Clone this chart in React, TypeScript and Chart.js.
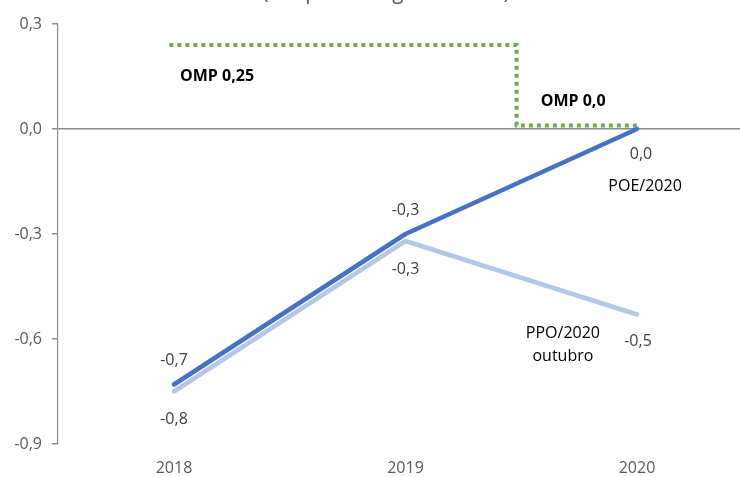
import React, { useEffect, useRef } from 'react';
import { Chart, registerables } from 'chart.js';

Chart.register(...registerables);

// ---- data ----
const years = [2018, 2019, 2020];
const poe2020 = [-0.73, -0.3, 0.0];
const ppo2020Outubro = [-0.75, -0.32, -0.53];
const ompX = [2017.98, 2019.48, 2019.48, 2020.0];
const ompY = [0.24, 0.24, 0.01, 0.01];
const yTickValues = [-0.9, -0.6, -0.3, 0, 0.3];
const titleText = '(em percentagem do PIB)';

// text notes anchored in data coordinates
const noteTexts = ['POE/2020', 'PPO/2020', 'outubro', 'OMP 0,25', 'OMP 0,0'];
const noteX = [2020.035, 2019.68, 2019.68, 2018.186, 2019.724];
const noteY = [-0.163, -0.583, -0.651, 0.151, 0.08];
const noteBold = [false, false, false, true, true];

const FONT = '"Open Sans", "Noto Sans", sans-serif';
const fmt = (v: number) => v.toFixed(1).replace('.', ',');

// label offsets in pixels relative to each point
const poeLabelDy = [-24, -24, 25];
const poeLabelDx = [0, 0, 4];
const ppoLabelDy = [28, 28, 27];
const ppoLabelDx = [0, 0, 1];

const labelPlugin = {
  id: 'customLabels',
  afterDatasetsDraw(chart: any) {
    const ctx = chart.ctx;
    const xs = chart.scales.x;
    const ys = chart.scales.y;
    ctx.save();
    // clipped title at top
    ctx.font = `21px ${FONT}`;
    ctx.fillStyle = '#595959';
    ctx.textAlign = 'center';
    ctx.textBaseline = 'alphabetic';
    ctx.fillText(titleText, 386, -1.5);

    ctx.textBaseline = 'middle';
    ctx.font = `16px ${FONT}`;
    ctx.fillStyle = '#404040';
    years.forEach((yr, i) => {
      const px = xs.getPixelForValue(yr);
      ctx.fillText(fmt(poe2020[i]), px + poeLabelDx[i], ys.getPixelForValue(poe2020[i]) + poeLabelDy[i]);
      ctx.fillText(fmt(ppo2020Outubro[i]), px + ppoLabelDx[i], ys.getPixelForValue(ppo2020Outubro[i]) + ppoLabelDy[i]);
    });

    noteTexts.forEach((t, i) => {
      ctx.font = `${noteBold[i] ? 'bold ' : ''}16px ${FONT}`;
      ctx.fillStyle = '#000000';
      ctx.fillText(t, xs.getPixelForValue(noteX[i]), ys.getPixelForValue(noteY[i]));
    });
    ctx.restore();
  },
};

export default function App() {
  const canvasRef = useRef<HTMLCanvasElement | null>(null);

  useEffect(() => {
    document.body.style.margin = '0';
    const canvas = canvasRef.current;
    if (!canvas) return;
    const chart = new Chart(canvas, {
      type: 'line',
      data: {
        datasets: [
          {
            label: 'POE/2020',
            data: years.map((x, i) => ({ x, y: poe2020[i] })),
            borderColor: '#4472C4',
            borderWidth: 4.5,
            borderCapStyle: 'round',
            borderJoinStyle: 'round',
            pointRadius: 0,
            tension: 0,
          },
          {
            label: 'PPO/2020 outubro',
            data: years.map((x, i) => ({ x, y: ppo2020Outubro[i] })),
            borderColor: '#B4C7E7',
            borderWidth: 4.5,
            borderCapStyle: 'round',
            borderJoinStyle: 'round',
            pointRadius: 0,
            tension: 0,
          },
          {
            label: 'OMP',
            data: ompX.map((x, i) => ({ x, y: ompY[i] })),
            borderColor: '#70AD47',
            borderWidth: 4,
            borderDash: [4, 4],
            borderCapStyle: 'butt',
            borderJoinStyle: 'miter',
            pointRadius: 0,
            tension: 0,
          },
        ],
      },
      options: {
        animation: false,
        responsive: false,
        maintainAspectRatio: false,
        layout: { padding: { top: 24, right: 0, bottom: 0, left: 0 } },
        plugins: {
          legend: { display: false },
          title: { display: false },
          tooltip: { enabled: false },
        },
        scales: {
          x: {
            type: 'linear',
            min: 2017.499,
            max: 2020.445,
            afterBuildTicks: (scale: any) => {
              scale.ticks = years.map((v) => ({ value: v }));
            },
            afterFit: (scale: any) => {
              scale.height = 33;
            },
            grid: { display: false },
            border: { display: false },
            ticks: {
              color: '#595959',
              font: { family: FONT, size: 16 },
              padding: 7,
              callback: (v: any) => String(v),
            },
          },
          y: {
            type: 'linear',
            min: -0.9,
            max: 0.3,
            afterBuildTicks: (scale: any) => {
              scale.ticks = yTickValues.map((v) => ({ value: v }));
            },
            afterFit: (scale: any) => {
              scale.width = 58;
            },
            grid: {
              drawOnChartArea: true,
              color: (c: any) => (Math.abs(c.tick?.value ?? 1) < 1e-9 ? '#8C8C8C' : 'rgba(0,0,0,0)'),
              tickColor: '#8C8C8C',
              tickLength: 6,
              lineWidth: 1.5,
            },
            border: { display: true, color: '#8C8C8C', width: 1.2 },
            ticks: {
              color: '#595959',
              font: { family: FONT, size: 16 },
              padding: 10,
              callback: (v: any) => fmt(Number(v)),
            },
          },
        },
      },
      plugins: [labelPlugin],
    } as any);
    return () => chart.destroy();
  }, []);

  return (
    <div style={{ width: 740, height: 477, position: 'relative', overflow: 'hidden', background: '#fff' }}>
      <canvas ref={canvasRef} width={740} height={477} style={{ display: 'block' }} />
    </div>
  );
}
